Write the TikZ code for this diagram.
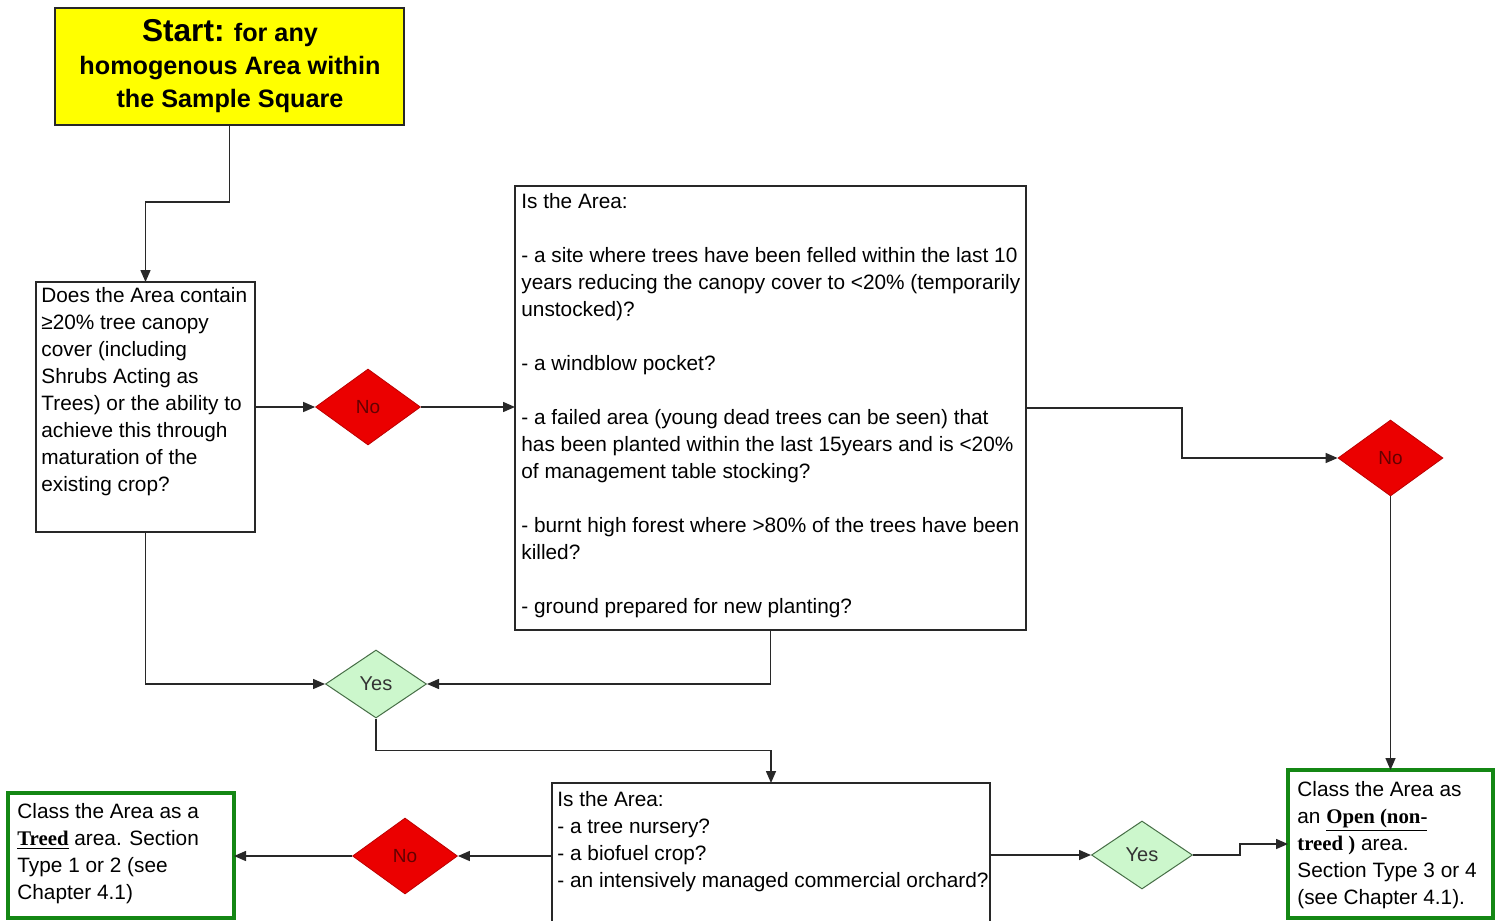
\documentclass[tikz,border=0pt]{standalone}
\usepackage{fontspec}
\setmainfont{Liberation Sans}
\newfontfamily\slabfont{Liberation Serif}
\usetikzlibrary{shapes.geometric,arrows.meta}
\definecolor{startyellow}{RGB}{255,255,0}
\definecolor{nored}{RGB}{235,0,0}
\definecolor{notext}{RGB}{100,0,0}
\definecolor{yesfill}{RGB}{204,247,204}
\definecolor{yesline}{RGB}{70,110,70}
\definecolor{endgreen}{RGB}{20,135,20}
\definecolor{linegray}{RGB}{40,40,40}
\tikzset{
  box/.style={draw=linegray, line width=0.75pt, fill=white, rectangle, inner sep=0pt, outer sep=0pt, anchor=north west},
  endbox/.style={draw=endgreen, line width=2pt, fill=white, rectangle, inner sep=0pt, outer sep=0pt, anchor=north west},
  startbox/.style={draw=linegray, line width=0.9pt, fill=startyellow, rectangle, inner sep=0pt, outer sep=0pt, anchor=north west},
  txt/.style={anchor=north west, inner sep=0pt, align=left, font=\fontsize{10.4}{13.5}\selectfont},
  nodia/.style={diamond, fill=nored, draw=nored!80!black, line width=0.4pt, inner sep=0pt,
     minimum width=52.5pt, minimum height=38pt, text=notext, font=\fontsize{9.5}{10}\selectfont},
  yesdia/.style={diamond, fill=yesfill, draw=yesline, line width=0.5pt, inner sep=0pt,
     minimum width=50.5pt, minimum height=34pt, text=black!80, font=\fontsize{10}{10}\selectfont},
  conn/.style={draw=linegray, line width=0.75pt, -{Triangle[length=6pt,width=5pt]}},
}
\newcommand{\ulb}[1]{\underline{\slabfont\bfseries #1}}
\begin{document}
\begin{tikzpicture}[x=0.5pt,y=-0.5pt]
\useasboundingbox (0,0) rectangle (1495,921);
\clip (0,0) rectangle (1495,921);
\fill[white] (0,0) rectangle (1495,921);

% start box
\node[startbox, minimum width=174.5pt, minimum height=58.5pt] (start) at (55,8) {};
\node[align=center, inner sep=0pt, font=\bfseries\fontsize{12.6}{16.5}\selectfont] (startt) at (230,66)
  {{\fontsize{15.8}{16.5}\selectfont Start:} for any\\homogenous Area within\\the Sample Square};

% question 1
\node[box, minimum width=109.5pt, minimum height=125pt] (q1) at (36,282) {};
\node[txt] (q1t) at (41,287) {Does the Area contain\\≥20\% tree canopy\\cover (including\\Shrubs Acting as\\Trees) or the ability to\\achieve this through\\maturation of the\\existing crop?};

% question 2
\node[box, minimum width=255.5pt, minimum height=222pt] (q2) at (515,186) {};
\node[txt] (q2t) at (521,193) {Is the Area:\\[13.5pt]
- a site where trees have been felled within the last 10\\years reducing the canopy cover to <20\% (temporarily\\unstocked)?\\[13.5pt]
- a windblow pocket?\\[13.5pt]
- a failed area (young dead trees can be seen) that\\has been planted within the last 15years and is <20\%\\of management table stocking?\\[13.5pt]
- burnt high forest where >80\% of the trees have been\\killed?\\[13.5pt]
- ground prepared for new planting?};

% question 3
\node[box, minimum width=219pt, minimum height=88.5pt] (q3) at (552,783) {};
\node[txt] (q3t) at (557,791) {Is the Area:\\- a tree nursery?\\- a biofuel crop?\\- an intensively managed commercial orchard?};

% end boxes
\node[endbox, minimum width=113pt, minimum height=62.5pt] (treed) at (8,793) {};
\node[txt] (treedt) at (17,803) {Class the Area as a\\\ulb{Treed} area. Section\\Type 1 or 2 (see\\Chapter 4.1)};
\node[endbox, minimum width=102.5pt, minimum height=74pt] (open) at (1288,770) {};
\node[txt] (opent) at (1297,781) {Class the Area as\\an \ulb{Open (non-}\\{\slabfont\bfseries treed )} area.\\Section Type 3 or 4\\(see Chapter 4.1).};

% diamonds
\node[nodia] (no1) at (368,407) {No};
\node[nodia] (no2) at (1390.5,458) {No};
\node[nodia] (no3) at (405,856) {No};
\node[yesdia] (yes1) at (376,684) {Yes};
\node[yesdia] (yes2) at (1142,855) {Yes};

% connectors
\draw[conn] (start.south) -- ++(0,77) -| (q1.north);
\draw[conn] (q1.east) -- (q1.east -| no1.west);
\draw[conn] (no1.east) -- (no1.east -| q2.west);
\draw[conn] (q2.east) -- ++(156,0) |- (no2.west);
\draw[conn] (no2.south) -- (no2.south |- open.north);
\draw[conn] (q1.south) |- (yes1.west);
\draw[conn] (q2.south) |- (yes1.east);
\draw[conn] (yes1.south) -- ++(0,32) -| (q3.north);
\draw[conn] (no3.east -| q3.west) -- (no3.east);
\draw[conn] (no3.west) -- (no3.west -| treed.east);
\draw[conn] (yes2.west -| q3.east) -- (yes2.west);
\draw[conn] (yes2.east) -- ++(47,0) |- (open.west);
\end{tikzpicture}
\end{document}
